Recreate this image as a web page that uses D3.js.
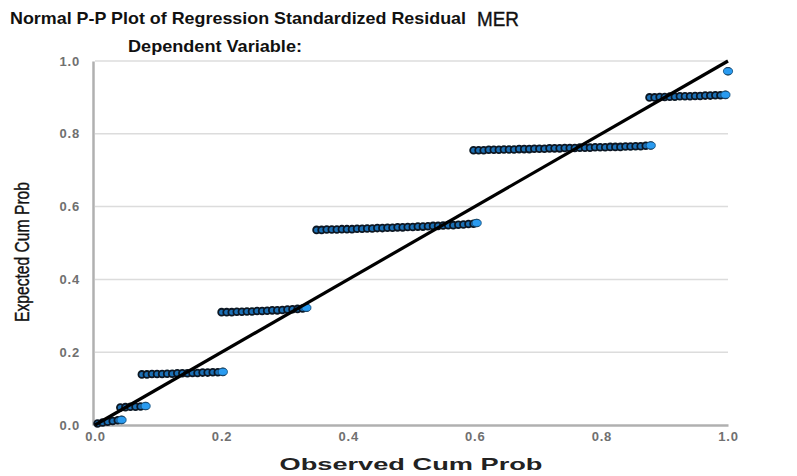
<!DOCTYPE html>
<html>
<head>
<meta charset="utf-8">
<script src="https://cdn.jsdelivr.net/npm/d3@7/dist/d3.min.js"></script>
<style>
  html, body { margin: 0; padding: 0; background: #fff; }
  svg { display: block; }
</style>
</head>
<body>
<svg id="chart" width="797" height="476"></svg>
<script>
// ---- Data ----
const titleText = "Normal P-P Plot of Regression Standardized Residual";
const titleSuffix = "MER";
const subtitleText = "Dependent Variable:";
const xLabel = "Observed Cum Prob";
const yLabel = "Expected Cum Prob";
const tickValues = [0.0, 0.2, 0.4, 0.6, 0.8, 1.0];

// Observed / expected cumulative probability of each point (grouped in steps)
const obs1 = [0.004, 0.012, 0.020, 0.028, 0.036, 0.042];
const exp1 = [0.004, 0.007, 0.009, 0.011, 0.013, 0.014];
const obs2 = [0.040, 0.048, 0.056, 0.064, 0.072, 0.080];
const exp2 = [0.048, 0.049, 0.050, 0.050, 0.051, 0.052];
const obs3 = [0.074, 0.082, 0.090, 0.098, 0.106, 0.114, 0.122, 0.130, 0.138, 0.146, 0.154, 0.162, 0.170, 0.178, 0.186, 0.194, 0.202];
const exp3 = [0.139, 0.139, 0.140, 0.140, 0.140, 0.141, 0.141, 0.142, 0.142, 0.142, 0.143, 0.143, 0.144, 0.144, 0.145, 0.145, 0.146];
const obs4 = [0.200, 0.208, 0.216, 0.224, 0.232, 0.240, 0.248, 0.256, 0.264, 0.272, 0.280, 0.288, 0.296, 0.304, 0.312, 0.320, 0.328, 0.334];
const exp4 = [0.310, 0.310, 0.310, 0.311, 0.311, 0.312, 0.312, 0.313, 0.313, 0.314, 0.315, 0.315, 0.316, 0.317, 0.318, 0.319, 0.320, 0.322];
const obs5 = [0.350, 0.358, 0.366, 0.374, 0.382, 0.390, 0.398, 0.406, 0.414, 0.422, 0.430, 0.438, 0.446, 0.454, 0.462, 0.470, 0.478, 0.486, 0.494, 0.502, 0.510, 0.518, 0.526, 0.534, 0.542, 0.550, 0.558, 0.566, 0.574, 0.582, 0.590, 0.598, 0.603];
const exp5 = [0.536, 0.536, 0.537, 0.537, 0.537, 0.538, 0.538, 0.538, 0.539, 0.539, 0.540, 0.540, 0.541, 0.541, 0.542, 0.542, 0.543, 0.543, 0.544, 0.544, 0.545, 0.545, 0.546, 0.547, 0.547, 0.548, 0.549, 0.549, 0.550, 0.551, 0.552, 0.553, 0.555];
const obs6 = [0.598, 0.606, 0.614, 0.622, 0.630, 0.638, 0.646, 0.654, 0.662, 0.670, 0.678, 0.686, 0.694, 0.702, 0.710, 0.718, 0.726, 0.734, 0.742, 0.750, 0.758, 0.766, 0.774, 0.782, 0.790, 0.798, 0.806, 0.814, 0.822, 0.830, 0.838, 0.846, 0.854, 0.862, 0.870, 0.878];
const exp6 = [0.755, 0.755, 0.755, 0.756, 0.756, 0.756, 0.757, 0.757, 0.757, 0.758, 0.758, 0.758, 0.759, 0.759, 0.759, 0.760, 0.760, 0.760, 0.761, 0.761, 0.761, 0.762, 0.762, 0.762, 0.763, 0.763, 0.763, 0.764, 0.764, 0.764, 0.765, 0.765, 0.766, 0.766, 0.767, 0.768];
const obs7 = [0.876, 0.884, 0.892, 0.900, 0.908, 0.916, 0.924, 0.932, 0.940, 0.948, 0.956, 0.964, 0.972, 0.980, 0.988, 0.996];
const exp7 = [0.900, 0.900, 0.901, 0.901, 0.902, 0.902, 0.903, 0.903, 0.903, 0.904, 0.904, 0.905, 0.905, 0.906, 0.906, 0.907];
const obs8 = [1.000];
const exp8 = [0.972];

const groups = [
  [obs1, exp1], [obs2, exp2], [obs3, exp3], [obs4, exp4],
  [obs5, exp5], [obs6, exp6], [obs7, exp7], [obs8, exp8]
];

// ---- Layout ----
const svg = d3.select("#chart");
const defs = svg.append("defs");
defs.append("filter").attr("id", "soft")
  .attr("x", "-5%").attr("y", "-20%").attr("width", "110%").attr("height", "140%")
  .append("feGaussianBlur").attr("stdDeviation", 0.6);

const x = d3.scaleLinear().domain([0, 1]).range([95, 728]);
const y = d3.scaleLinear().domain([0, 1]).range([425, 61]);
const FONT = "Liberation Sans, Arial, sans-serif";

// gridlines
svg.append("g")
  .selectAll("line")
  .data(tickValues.slice(1))
  .join("line")
  .attr("x1", x(0)).attr("x2", x(1))
  .attr("y1", d => y(d)).attr("y2", d => y(d))
  .attr("stroke", "#dcdcdc").attr("stroke-width", 1.5);

// y axis
const yAxis = svg.append("g")
  .attr("transform", `translate(${x(0) - 2},0)`)
  .call(d3.axisLeft(y).tickValues(tickValues).tickFormat(d3.format(".1f")).tickSize(0).tickPadding(13));
yAxis.select(".domain").attr("stroke", "#b0b0b0").attr("stroke-width", 2.5);
yAxis.selectAll("text")
  .attr("font-family", FONT).attr("letter-spacing", 0.8)
  .attr("font-size", 13).attr("font-weight", "bold").attr("fill", "#707070");

// x axis
const xAxis = svg.append("g")
  .attr("transform", `translate(0,${y(0)})`)
  .call(d3.axisBottom(x).tickValues(tickValues).tickFormat(d3.format(".1f")).tickSize(0).tickPadding(7));
xAxis.select(".domain").attr("stroke", "#b0b0b0").attr("stroke-width", 2.5);
xAxis.selectAll("text")
  .attr("font-family", FONT).attr("letter-spacing", 0.8)
  .attr("font-size", 13).attr("font-weight", "bold").attr("fill", "#707070");

// points
const pts = [];
groups.forEach(([ox, ey]) => ox.forEach((v, i) => pts.push({ o: v, e: ey[i], last: i === ox.length - 1 })));
const pg = svg.append("g").attr("filter", "url(#soft)");
pg.selectAll("circle")
  .data(pts)
  .join("circle")
  .attr("cx", d => x(d.o))
  .attr("cy", d => y(d.e))
  .attr("r", 3.4)
  .attr("fill", "#1c6fb5")
  .attr("stroke", "#0a1824")
  .attr("stroke-width", 1.8);
// brighter last point in each step
pg.selectAll("ellipse")
  .data(pts.filter(d => d.last))
  .join("ellipse")
  .attr("cx", d => x(d.o))
  .attr("cy", d => y(d.e))
  .attr("rx", 4.6).attr("ry", 3.5)
  .attr("fill", "#2a9bf0")
  .attr("stroke", "#18507c")
  .attr("stroke-width", 0.8);

// reference line
svg.append("line")
  .attr("x1", x(0)).attr("y1", y(0))
  .attr("x2", x(1)).attr("y2", y(1))
  .attr("stroke", "#000").attr("stroke-width", 3.2);

// titles
svg.append("text")
  .attr("x", 10).attr("y", 23.5)
  .attr("font-family", FONT)
  .attr("font-size", 16.5).attr("font-weight", "bold").attr("fill", "#111")
  .attr("textLength", 456).attr("lengthAdjust", "spacingAndGlyphs")
  .text(titleText);
svg.append("text")
  .attr("x", 477).attr("y", 25.5)
  .attr("font-family", FONT)
  .attr("font-size", 21).attr("fill", "#111")
  .attr("stroke", "#111").attr("stroke-width", 0.4)
  .attr("textLength", 42).attr("lengthAdjust", "spacingAndGlyphs")
  .text(titleSuffix);
svg.append("text")
  .attr("x", 128).attr("y", 52)
  .attr("font-family", FONT)
  .attr("font-size", 16.5).attr("font-weight", "bold").attr("fill", "#111")
  .attr("textLength", 174).attr("lengthAdjust", "spacingAndGlyphs")
  .text(subtitleText);

// axis titles
svg.append("text")
  .attr("x", 411).attr("y", 470)
  .attr("text-anchor", "middle")
  .attr("font-family", FONT)
  .attr("font-size", 16.5).attr("font-weight", "bold").attr("fill", "#222")
  .attr("textLength", 263).attr("lengthAdjust", "spacingAndGlyphs")
  .text(xLabel);
svg.append("text")
  .attr("transform", "translate(29,252) rotate(-90)")
  .attr("text-anchor", "middle")
  .attr("font-family", "Liberation Sans Narrow, Arial Narrow, Liberation Sans, sans-serif")
  .attr("font-size", 21).attr("fill", "#111")
  .attr("stroke", "#111").attr("stroke-width", 0.4)
  .attr("textLength", 140).attr("lengthAdjust", "spacingAndGlyphs")
  .text(yLabel);
</script>
</body>
</html>
